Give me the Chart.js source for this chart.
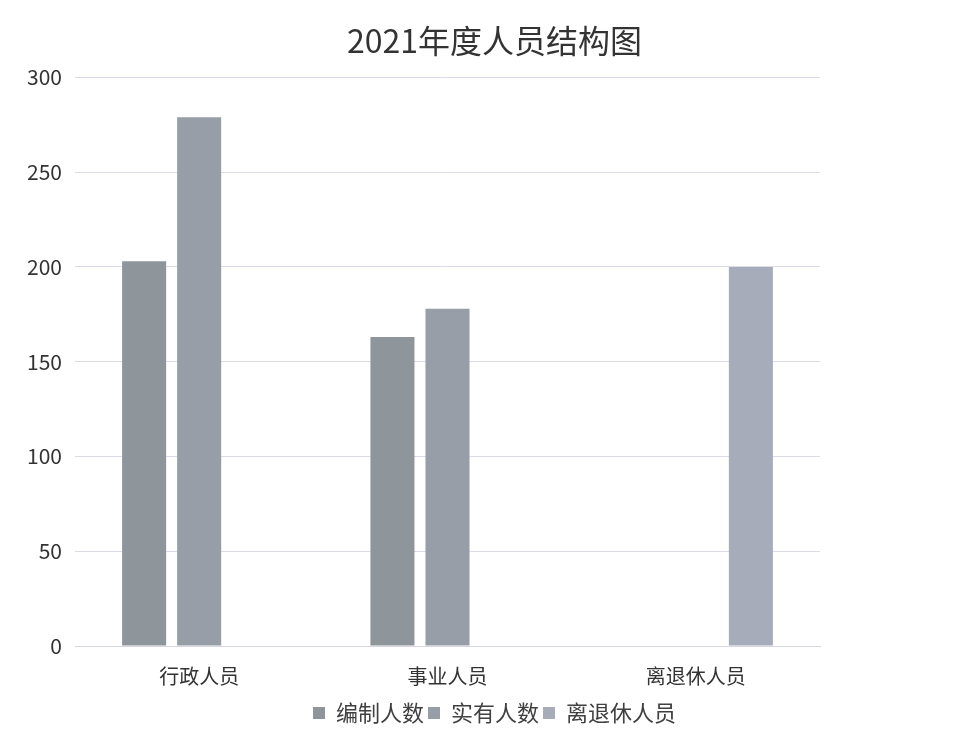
<!DOCTYPE html>
<html>
<head>
<meta charset="utf-8">
<script src="https://cdn.jsdelivr.net/npm/chart.js@4"></script>
<style>
  html, body { margin: 0; padding: 0; background: #ffffff; }
  #wrap { width: 979px; height: 740px; }
</style>
</head>
<body>
<div id="wrap"><canvas id="c" width="979" height="740"></canvas></div>
<script>
const categories = ['行政人员', '事业人员', '离退休人员'];
const seriesNames = ['编制人数', '实有人数', '离退休人员'];
const bianzhi = [203, 163, null];
const shiyou = [279, 178, null];
const lituixiu = [null, null, 200];
const yTicks = [0, 50, 100, 150, 200, 250, 300];

const FONT = "'Noto Sans CJK SC', 'Noto Sans', sans-serif";
const colors = ['#8e959b', '#979ea7', '#a7acbb'];

new Chart(document.getElementById('c'), {
  type: 'bar',
  data: {
    labels: categories,
    datasets: [
      { label: seriesNames[0], data: bianzhi, backgroundColor: colors[0] },
      { label: seriesNames[1], data: shiyou, backgroundColor: colors[1] },
      { label: seriesNames[2], data: lituixiu, backgroundColor: colors[2] }
    ]
  },
  options: {
    responsive: false,
    animation: false,
    devicePixelRatio: 1,
    layout: { padding: { left: 20, right: 10, top: 22, bottom: 6 } },
    datasets: { bar: { categoryPercentage: 0.665, barPercentage: 0.8 } },
    plugins: {
      title: {
        display: true,
        text: '2021年度人员结构图',
        color: '#333333',
        font: { family: FONT, size: 32, weight: 'normal' },
        padding: { top: 0, bottom: 17 }
      },
      legend: {
        position: 'bottom',
        labels: {
          color: '#404040',
          font: { family: FONT, size: 22 },
          boxWidth: 12,
          boxHeight: 12,
          padding: 4
        }
      },
      tooltip: { enabled: false }
    },
    scales: {
      x: {
        grid: { display: false },
        border: { color: '#d6d6e4', width: 1 },
        ticks: { color: '#333333', font: { family: FONT, size: 20 }, padding: 10 }
      },
      y: {
        min: 0,
        max: 300,
        afterBuildTicks: (axis) => { axis.ticks = yTicks.map(v => ({ value: v })); },
        afterFit: (axis) => { axis.width = 55; },
        grid: { color: '#dcdce8', drawTicks: false },
        border: { display: false },
        ticks: { color: '#333333', font: { family: FONT, size: 21 }, padding: 13 }
      },
      yRight: {
        type: 'linear',
        position: 'right',
        display: true,
        grid: { display: false },
        border: { display: false },
        ticks: { display: false },
        afterFit: (axis) => { axis.width = 149; }
      }
    }
  }
});
</script>
</body>
</html>
